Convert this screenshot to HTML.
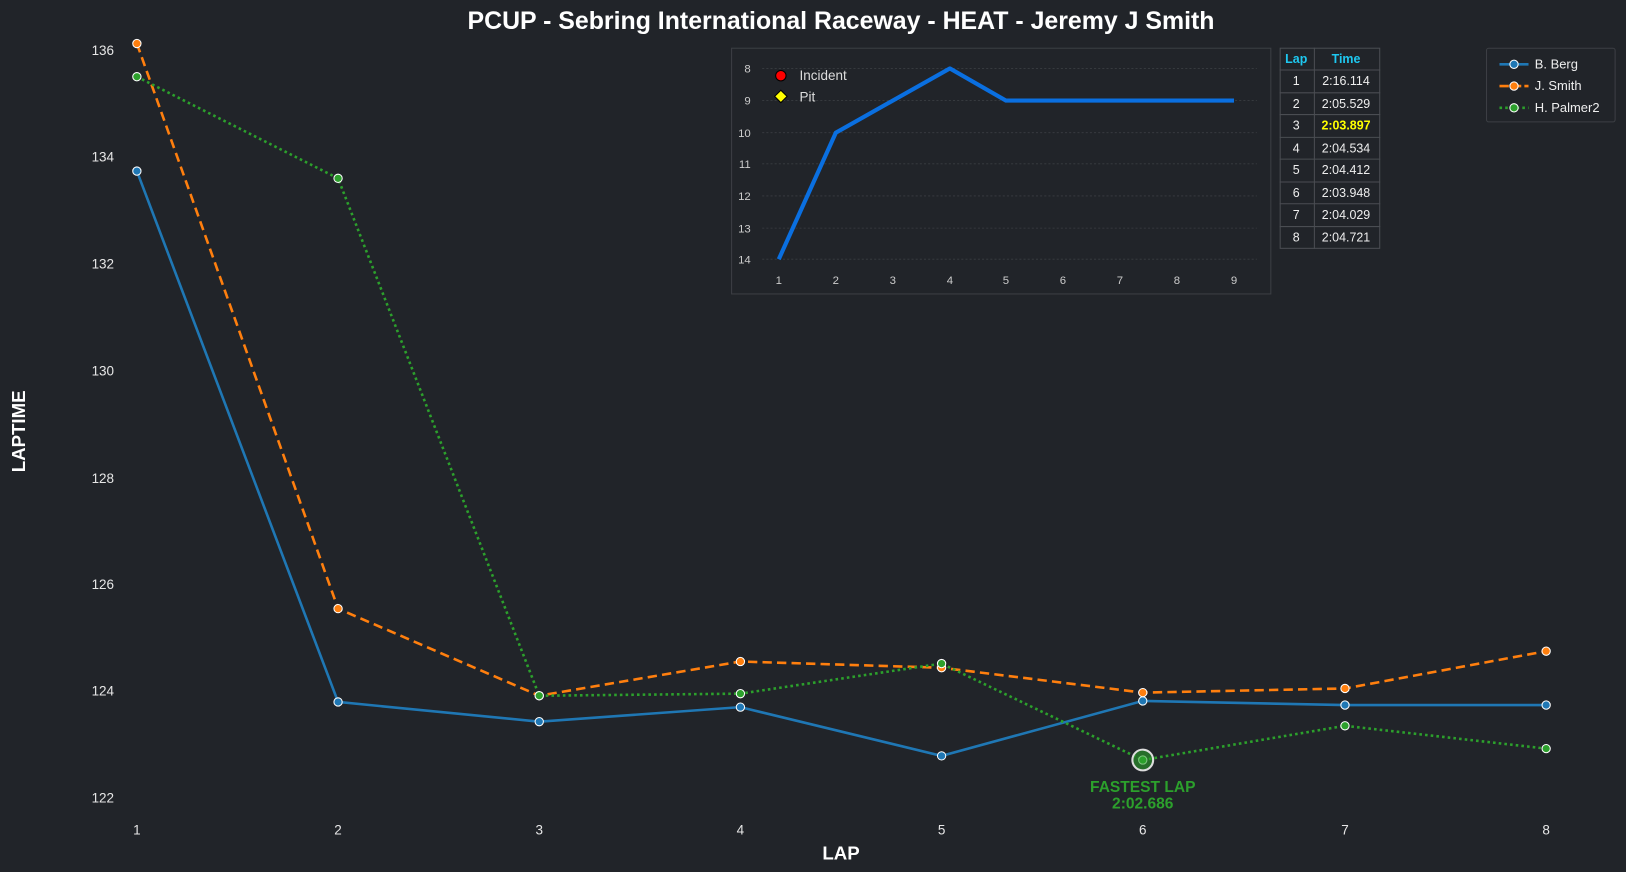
<!DOCTYPE html>
<html><head><meta charset="utf-8"><style>
html,body{margin:0;padding:0;background:#212429;}
svg{display:block;}
text{font-family:"Liberation Sans",sans-serif;}
</style></head><body>
<svg width="1626" height="872" viewBox="0 0 1568 841" preserveAspectRatio="none" xmlns="http://www.w3.org/2000/svg">
<rect width="1568" height="841" fill="#212429"/>
<text x="811" y="28" text-anchor="middle" font-size="24" font-weight="bold" fill="#fff">PCUP - Sebring International Raceway - HEAT - Jeremy J Smith</text>
<g font-size="13" fill="#e6e6e6" text-anchor="end">
<text x="110" y="53">136</text><text x="110" y="156">134</text><text x="110" y="259">132</text><text x="110" y="362">130</text><text x="110" y="466">128</text><text x="110" y="568">126</text><text x="110" y="671">124</text><text x="110" y="774">122</text>
</g>
<g font-size="13" fill="#e6e6e6" text-anchor="middle">
<text x="132" y="805">1</text><text x="326" y="805">2</text><text x="520" y="805">3</text><text x="714" y="805">4</text><text x="908" y="805">5</text><text x="1102" y="805">6</text><text x="1297" y="805">7</text><text x="1491" y="805">8</text>
</g>
<text x="811" y="829" text-anchor="middle" font-size="18" font-weight="bold" fill="#fff">LAP</text>
<text transform="translate(24,416) rotate(-90)" text-anchor="middle" font-size="18" font-weight="bold" fill="#fff">LAPTIME</text>
<polyline fill="none" stroke="#1f77b4" stroke-width="2.5" points="132,165 326,677 520,696 714,682 908,729 1102,676 1297,680 1491,680"/>
<polyline fill="none" stroke="#ff7f0e" stroke-width="2.5" stroke-dasharray="9,5" points="132,42 326,587 520,671 714,638 908,644 1102,668 1297,664 1491,628"/>
<polyline fill="none" stroke="#2ca02c" stroke-width="2.5" stroke-dasharray="2.5,3" points="132,74 326,172 520,671 714,669 908,640 1102,733 1297,700 1491,722"/>
<g stroke="#fff" stroke-width="1">
<g fill="#1f77b4"><circle cx="132" cy="165" r="4"/><circle cx="326" cy="677" r="4"/><circle cx="520" cy="696" r="4"/><circle cx="714" cy="682" r="4"/><circle cx="908" cy="729" r="4"/><circle cx="1102" cy="676" r="4"/><circle cx="1297" cy="680" r="4"/><circle cx="1491" cy="680" r="4"/></g>
<g fill="#ff7f0e"><circle cx="132" cy="42" r="4"/><circle cx="326" cy="587" r="4"/><circle cx="520" cy="671" r="4"/><circle cx="714" cy="638" r="4"/><circle cx="908" cy="644" r="4"/><circle cx="1102" cy="668" r="4"/><circle cx="1297" cy="664" r="4"/><circle cx="1491" cy="628" r="4"/></g>
<g fill="#2ca02c"><circle cx="132" cy="74" r="4"/><circle cx="326" cy="172" r="4"/><circle cx="520" cy="671" r="4"/><circle cx="714" cy="669" r="4"/><circle cx="908" cy="640" r="4"/><circle cx="1102" cy="733" r="4"/><circle cx="1297" cy="700" r="4"/><circle cx="1491" cy="722" r="4"/></g>
</g>
<circle cx="1102" cy="733" r="10" fill="#2ca02c" fill-opacity="0.6" stroke="#ddd" stroke-width="2"/>
<text x="1102" y="764" text-anchor="middle" font-size="15" font-weight="bold" fill="#2ca02c">FASTEST LAP</text>
<text x="1102" y="780" text-anchor="middle" font-size="15" font-weight="bold" fill="#2ca02c">2:02.686</text>
<!-- inset -->
<rect x="705.5" y="46.5" width="520" height="237" fill="#212429" stroke="#3c3f44"/>
<g stroke="#3a3d42" stroke-dasharray="2,2" stroke-width="0.8">
<line x1="735" x2="1212" y1="66" y2="66"/><line x1="735" x2="1212" y1="97" y2="97"/><line x1="735" x2="1212" y1="128" y2="128"/><line x1="735" x2="1212" y1="158" y2="158"/><line x1="735" x2="1212" y1="189" y2="189"/><line x1="735" x2="1212" y1="220" y2="220"/><line x1="735" x2="1212" y1="250" y2="250"/>
</g>
<g font-size="11" fill="#ccc" text-anchor="end">
<text x="724" y="70">8</text><text x="724" y="101">9</text><text x="724" y="132">10</text><text x="724" y="162">11</text><text x="724" y="193">12</text><text x="724" y="224">13</text><text x="724" y="254">14</text>
</g>
<g font-size="11" fill="#ccc" text-anchor="middle">
<text x="751" y="274">1</text><text x="806" y="274">2</text><text x="861" y="274">3</text><text x="916" y="274">4</text><text x="970" y="274">5</text><text x="1025" y="274">6</text><text x="1080" y="274">7</text><text x="1135" y="274">8</text><text x="1190" y="274">9</text>
</g>
<polyline fill="none" stroke="#0a6fe0" stroke-width="4" stroke-linejoin="round" points="751,250 806,128 861,97 916,66 970,97 1025,97 1080,97 1135,97 1190,97"/>
<circle cx="753" cy="73" r="5" fill="#f00" stroke="#000"/>
<polygon points="753,87 759,93 753,99 747,93" fill="#ff0" stroke="#000"/>
<text x="771" y="77" font-size="13" fill="#ddd">Incident</text>
<text x="771" y="98" font-size="13" fill="#ddd">Pit</text>
<!-- table -->
<g stroke="#4a4d52" fill="none">
<rect x="1234.5" y="46.5" width="96" height="193"/>
<line x1="1267.5" x2="1267.5" y1="46" y2="240"/>
<line x1="1234" x2="1331" y1="67.5" y2="67.5"/><line x1="1234" x2="1331" y1="89.5" y2="89.5"/><line x1="1234" x2="1331" y1="110.5" y2="110.5"/><line x1="1234" x2="1331" y1="132.5" y2="132.5"/><line x1="1234" x2="1331" y1="153.5" y2="153.5"/><line x1="1234" x2="1331" y1="175.5" y2="175.5"/><line x1="1234" x2="1331" y1="196.5" y2="196.5"/><line x1="1234" x2="1331" y1="218.5" y2="218.5"/>
</g>
<g font-size="12" text-anchor="middle" fill="#eee">
<text x="1250" y="61" fill="#1ec8f0" font-weight="bold">Lap</text><text x="1298" y="61" fill="#1ec8f0" font-weight="bold">Time</text>
<text x="1250" y="82">1</text><text x="1298" y="82">2:16.114</text>
<text x="1250" y="104">2</text><text x="1298" y="104">2:05.529</text>
<text x="1250" y="125">3</text><text x="1298" y="125" fill="#ffff00" font-weight="bold">2:03.897</text>
<text x="1250" y="147">4</text><text x="1298" y="147">2:04.534</text>
<text x="1250" y="168">5</text><text x="1298" y="168">2:04.412</text>
<text x="1250" y="190">6</text><text x="1298" y="190">2:03.948</text>
<text x="1250" y="211">7</text><text x="1298" y="211">2:04.029</text>
<text x="1250" y="233">8</text><text x="1298" y="233">2:04.721</text>
</g>
<!-- legend -->
<rect x="1433.5" y="46.5" width="124" height="71" rx="2" fill="#212429" stroke="#3c3f44"/>
<line x1="1446" x2="1474" y1="62" y2="62" stroke="#1f77b4" stroke-width="2.5"/><circle cx="1460" cy="62" r="4" fill="#1f77b4" stroke="#fff"/>
<line x1="1446" x2="1474" y1="83" y2="83" stroke="#ff7f0e" stroke-width="2.5" stroke-dasharray="9,3"/><circle cx="1460" cy="83" r="4" fill="#ff7f0e" stroke="#fff"/>
<line x1="1446" x2="1474" y1="104" y2="104" stroke="#2ca02c" stroke-width="2.5" stroke-dasharray="2.5,3"/><circle cx="1460" cy="104" r="4" fill="#2ca02c" stroke="#fff"/>
<g font-size="12.5" fill="#eee"><text x="1480" y="66">B. Berg</text><text x="1480" y="87">J. Smith</text><text x="1480" y="108">H. Palmer2</text></g>
</svg>
</body></html>
